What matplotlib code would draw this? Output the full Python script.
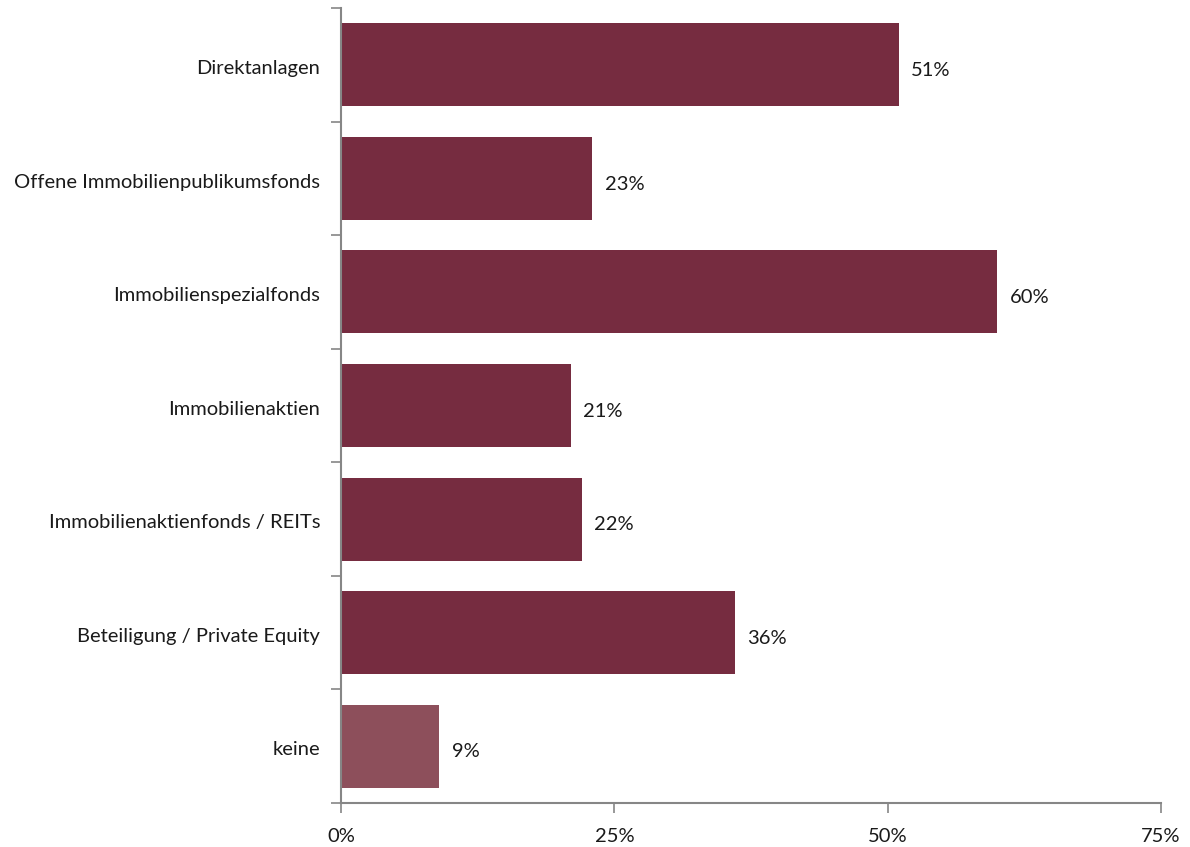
import matplotlib.pyplot as plt
import numpy as np

categories = ["Direktanlagen", "Offene Immobilienpublikumsfonds", "Immobilienspezialfonds",
              "Immobilienaktien", "Immobilienaktienfonds / REITs",
              "Beteiligung / Private Equity", "keine"]
values = [51, 23, 60, 21, 22, 36, 9]
bar_colors = ["#762c40"] * 6 + ["#8d4f5b"]
xticks = [0, 25, 50, 75]
xticklabels = ["0%", "25%", "50%", "75%"]

plt.rcParams['font.family'] = ['Lato', 'DejaVu Sans']

fig = plt.figure(figsize=(11.9, 8.47), dpi=100)
ax = fig.add_axes([341 / 1190, 44 / 847, 820 / 1190, 795 / 847])

y = np.arange(len(categories))
ax.barh(y, values, height=0.73, color=bar_colors)
for yi, v in zip(y, values):
    ax.text(v + 1.15, yi + 0.05, f"{v}%", va="center", ha="left", fontsize=14.5, color="#1a1a1a")

ax.set_xlim(0, 75)
ax.set_ylim(len(categories) - 0.5, -0.5)

# y ticks at category boundaries, labels in between
ax.set_yticks(np.arange(len(categories) + 1) - 0.5)
ax.set_yticklabels([])
ax.set_yticks(y + 0.02, minor=True)
ax.set_yticklabels(categories, minor=True, fontsize=14.5, color="#1a1a1a")
ax.tick_params(axis="y", which="minor", length=0, pad=15)
ax.tick_params(axis="y", which="major", length=7, color="#868686", width=1.2)

ax.set_xticks(xticks)
ax.set_xticklabels(xticklabels, fontsize=14.5, color="#1a1a1a")
ax.tick_params(axis="x", length=7, color="#868686", width=1.2, pad=11)

for s in ["top", "right"]:
    ax.spines[s].set_visible(False)
for s in ["left", "bottom"]:
    ax.spines[s].set_color("#868686")
    ax.spines[s].set_linewidth(1.5)

fig.savefig("out.png", dpi=100)
